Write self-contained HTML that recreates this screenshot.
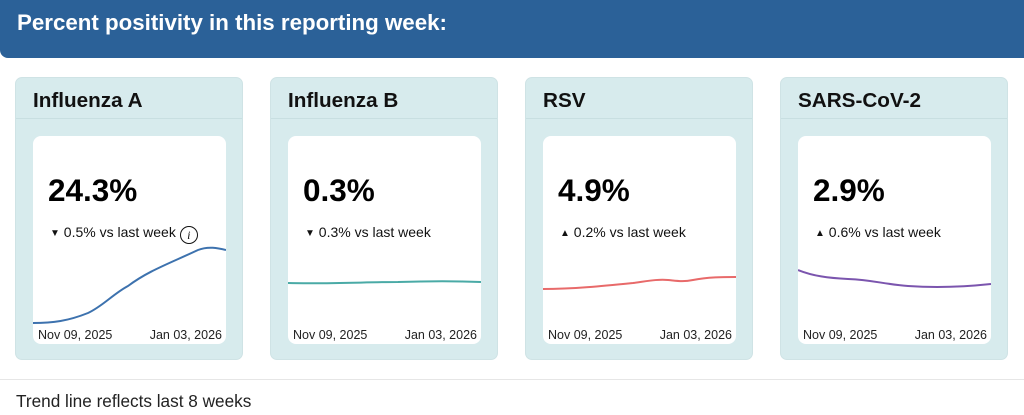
<!DOCTYPE html>
<html><head><style>
body{margin:0;width:1024px;height:415px;background:#fff;font-family:"Liberation Sans",Arial,sans-serif;position:relative;overflow:hidden}
.hdr{position:absolute;left:0;top:0;width:1024px;height:58px;background:#2b6198;border-radius:0 0 0 8px;color:#fff;font-weight:bold;font-size:22.3px;line-height:46px;padding-left:17px;box-sizing:border-box}
.card{position:absolute;top:77px;width:228px;height:283px;background:#d7ebed;border-radius:7px;border:1px solid #cfe3e5;box-sizing:border-box}
.ttl{position:absolute;left:0;top:0;width:100%;height:41px;border-bottom:1px solid #c8dfe1;font-weight:bold;font-size:20.7px;line-height:46px;padding-left:17px;box-sizing:border-box;color:#111}
.in{position:absolute;left:17px;top:58px;width:193px;height:208px;background:#fff;border-radius:8px;overflow:hidden}
.num{position:absolute;left:15px;top:36px;font-size:31.5px;font-weight:bold;color:#000}
.sub{position:absolute;left:17px;top:88px;font-size:14px;color:#111}
.t{font-size:10px;vertical-align:1px}
.d{position:absolute;top:192px;font-size:12.5px;color:#222}
svg{position:absolute;left:0;top:0}
.foot{position:absolute;left:0;top:379px;width:1024px;border-top:1px solid #e6e6e6}
.ft{position:absolute;left:16px;top:391px;font-size:17.2px;color:#222}
</style></head><body>
<div class="hdr">Percent positivity in this reporting week:</div>

<div class="card" style="left:15px"><div class="ttl">Influenza A</div><div class="in">
<div class="num">24.3%</div><div class="sub"><span class="t">▼</span> 0.5% vs last week <span style="display:inline-block;width:16px;height:16px;border:1.3px solid #111;border-radius:50%;font-size:12px;line-height:16px;text-align:center;font-style:italic;vertical-align:-2px;font-family:'Liberation Serif',serif">i</span></div>
<svg width="193" height="208"><path d="M0,187 C20,187 35,185 55,177 C70,170 80,158 95,150 C115,135 135,128 165,114 C175,110 185,112 193,114" fill="none" stroke="#3d72ae" stroke-width="2"/></svg>
<div class="d" style="left:5px">Nov 09, 2025</div><div class="d" style="right:4px">Jan 03, 2026</div></div></div>

<div class="card" style="left:270px"><div class="ttl">Influenza B</div><div class="in">
<div class="num">0.3%</div><div class="sub"><span class="t">▼</span> 0.3% vs last week</div>
<svg width="193" height="208"><path d="M0,147 C40,148 80,146 110,146 C140,145 170,145 193,146" fill="none" stroke="#4aaaa6" stroke-width="2"/></svg>
<div class="d" style="left:5px">Nov 09, 2025</div><div class="d" style="right:4px">Jan 03, 2026</div></div></div>

<div class="card" style="left:525px"><div class="ttl">RSV</div><div class="in">
<div class="num">4.9%</div><div class="sub"><span class="t">▲</span> 0.2% vs last week</div>
<svg width="193" height="208"><path d="M0,153 C30,153 60,150 90,147 C105,145 115,143 125,144 C135,145 140,146 150,144 C165,141 180,141 193,141" fill="none" stroke="#e86a6a" stroke-width="2"/></svg>
<div class="d" style="left:5px">Nov 09, 2025</div><div class="d" style="right:4px">Jan 03, 2026</div></div></div>

<div class="card" style="left:780px"><div class="ttl">SARS-CoV-2</div><div class="in">
<div class="num">2.9%</div><div class="sub"><span class="t">▲</span> 0.6% vs last week</div>
<svg width="193" height="208"><path d="M0,134 C15,140 30,142 50,143 C75,144 85,148 110,150 C140,152 165,151 193,148" fill="none" stroke="#7b55ae" stroke-width="2"/></svg>
<div class="d" style="left:5px">Nov 09, 2025</div><div class="d" style="right:4px">Jan 03, 2026</div></div></div>

<div class="foot"></div>
<div class="ft">Trend line reflects last 8 weeks</div>
</body></html>
